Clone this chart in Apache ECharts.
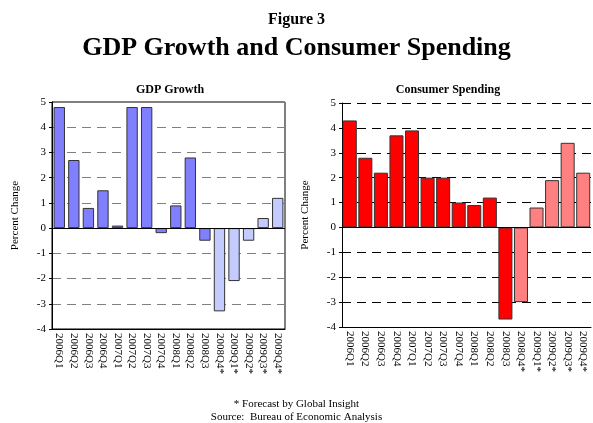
<!DOCTYPE html>
<html>
<head>
<meta charset="utf-8">
<script src="https://cdn.jsdelivr.net/npm/echarts@6/dist/echarts.min.js"></script>
<style>
  html, body { margin: 0; padding: 0; background: #fff; }
  #chart { width: 593px; height: 423px; }
</style>
</head>
<body>
<div id="chart"></div>
<script>
// quarters shown on both panels
const quarters = ['2006Q1', '2006Q2', '2006Q3', '2006Q4', '2007Q1', '2007Q2', '2007Q3', '2007Q4',
  '2008Q1', '2008Q2', '2008Q3', '2008Q4*', '2009Q1*', '2009Q2*', '2009Q3*', '2009Q4*']
const gdpGrowth = [4.8, 2.7, 0.8, 1.5, 0.1, 4.8, 4.8, -0.2, 0.9, 2.8, -0.5, -3.3, -2.1, -0.5, 0.4, 1.2]
const consumerSpending = [4.3, 2.8, 2.2, 3.7, 3.9, 2.0, 2.0, 1.0, 0.9, 1.2, -3.7, -3.0, 0.8, 1.9, 3.4, 2.2]
const forecastStart = 11 // first forecast quarter (2008Q4*)
const yTicks = [-4, -3, -2, -1, 0, 1, 2, 3, 4, 5]

const font = 'Liberation Serif, Times New Roman, serif'

function colored (values, actual, forecast) {
  return values.map((v, i) => ({
    value: v,
    itemStyle: { color: i >= forecastStart ? forecast : actual }
  }))
}

function xAxisFor (idx) {
  return {
    type: 'category',
    gridIndex: idx,
    data: quarters,
    position: 'bottom',
    axisLine: { onZero: false, lineStyle: { color: '#000', width: 1 } },
    axisTick: { alignWithLabel: true, length: 3, lineStyle: { color: '#000' } },
    axisLabel: {
      rotate: -90,
      interval: 0,
      margin: 4,
      color: '#000',
      fontFamily: font,
      fontSize: 11
    }
  }
}

function yAxisFor (idx, gridColor) {
  return {
    type: 'value',
    gridIndex: idx,
    min: yTicks[0],
    max: yTicks[yTicks.length - 1],
    interval: 1,
    name: 'Percent Change',
    nameLocation: 'middle',
    nameGap: 31,
    nameTextStyle: { fontFamily: font, fontSize: 11, color: '#000' },
    axisLine: { show: true, lineStyle: { color: '#000' } },
    axisTick: { show: true, length: 3, lineStyle: { color: '#000' } },
    axisLabel: { color: '#000', fontFamily: font, fontSize: 11, margin: 6 },
    splitLine: { show: true, lineStyle: { color: gridColor, type: [9, 6], width: 1 } }
  }
}

const chart = echarts.init(document.getElementById('chart'))
chart.setOption({
  animation: false,
  backgroundColor: '#fff',
  title: [
    { text: 'Figure 3', left: 'center', top: 7, textStyle: { fontFamily: font, fontSize: 16, fontWeight: 'bold', color: '#000' } },
    { text: 'GDP Growth and Consumer Spending', left: 'center', top: 30, textStyle: { fontFamily: font, fontSize: 26, fontWeight: 'bold', color: '#000' } },
    { text: 'GDP Growth', left: 165, textAlign: 'center', top: 79, textStyle: { fontFamily: font, fontSize: 12, fontWeight: 'bold', color: '#000' } },
    { text: 'Consumer Spending', left: 443, textAlign: 'center', top: 79, textStyle: { fontFamily: font, fontSize: 12, fontWeight: 'bold', color: '#000' } },
    { text: '* Forecast by Global Insight', left: 'center', top: 394, textStyle: { fontFamily: font, fontSize: 11, fontWeight: 'normal', color: '#000' } },
    { text: 'Source:  Bureau of Economic Analysis', left: 'center', top: 407, textStyle: { fontFamily: font, fontSize: 11, fontWeight: 'normal', color: '#000' } }
  ],
  grid: [
    { left: 52, right: 308, top: 102, bottom: 94, show: true, borderColor: '#000', borderWidth: 1 },
    { left: 342, right: 2, top: 103, bottom: 96 }
  ],
  xAxis: [xAxisFor(0), xAxisFor(1)],
  yAxis: [yAxisFor(0, '#808080'), yAxisFor(1, '#000')],
  series: [
    {
      type: 'bar',
      xAxisIndex: 0,
      yAxisIndex: 0,
      data: colored(gdpGrowth, '#8080FF', '#C4CCFF'),
      barCategoryGap: '22%',
      itemStyle: { borderColor: '#333', borderWidth: 1 },
      markLine: {
        silent: true,
        symbol: 'none',
        label: { show: false },
        lineStyle: { color: '#000', type: 'solid', width: 1 },
        data: [{ yAxis: 0 }]
      }
    },
    {
      type: 'bar',
      xAxisIndex: 1,
      yAxisIndex: 1,
      data: colored(consumerSpending, '#FF0000', '#FF8080'),
      barCategoryGap: '10%',
      itemStyle: { borderColor: '#333', borderWidth: 1 },
      markLine: {
        silent: true,
        symbol: 'none',
        label: { show: false },
        lineStyle: { color: '#000', type: 'solid', width: 1 },
        data: [{ yAxis: 0 }]
      }
    }
  ]
})
</script>
</body>
</html>
